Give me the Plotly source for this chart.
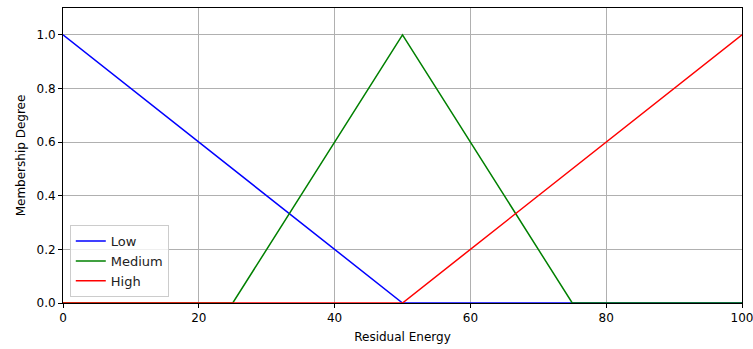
import plotly.graph_objects as go

x_low = [0, 50, 100]
y_low = [1, 0, 0]
x_med = [0, 25, 50, 75, 100]
y_med = [0, 0, 1, 0, 0]
x_high = [0, 50, 100]
y_high = [0, 0, 1]

fig = go.Figure()
fig.add_trace(go.Scatter(x=x_low, y=y_low, mode="lines", name="Low", line=dict(color="#0000ff", width=1.5)))
fig.add_trace(go.Scatter(x=x_med, y=y_med, mode="lines", name="Medium", line=dict(color="#008000", width=1.5)))
fig.add_trace(go.Scatter(x=x_high, y=y_high, mode="lines", name="High", line=dict(color="#ff0000", width=1.5)))

axis_common = dict(
    showgrid=True, gridcolor="#b0b0b0", gridwidth=1,
    showline=True, linecolor="black", linewidth=1, mirror=True,
    ticks="outside", ticklen=4, tickcolor="black",
    zeroline=False, ticklabeloverflow="allow", automargin=False,
    tickfont=dict(family="DejaVu Sans", size=12, color="black"),
)
fig.update_xaxes(range=[0, 100], tickvals=[0, 20, 40, 60, 80, 100],
                 title=dict(text="Residual Energy", font=dict(family="DejaVu Sans", size=12, color="black"), standoff=8),
                 **axis_common)
fig.update_yaxes(range=[0, 1.1], tickvals=[0, 0.2, 0.4, 0.6, 0.8, 1.0], tickformat=".1f",
                 title=dict(text="Membership Degree", font=dict(family="DejaVu Sans", size=12, color="black"), standoff=8),
                 **axis_common)
fig.update_layout(
    width=753, height=349,
    margin=dict(l=63, r=11, t=8, b=46),
    plot_bgcolor="white", paper_bgcolor="white",
    font=dict(family="DejaVu Sans", size=12, color="black"),
    legend=dict(x=0.01, y=0.02, xanchor="left", yanchor="bottom",
                bgcolor="rgba(255,255,255,0.8)", bordercolor="#cccccc", borderwidth=1,
                font=dict(family="DejaVu Sans", size=13, color="#222222"),
                tracegroupgap=0, itemwidth=30),
    showlegend=True,
)
fig.write_html("out.html")
